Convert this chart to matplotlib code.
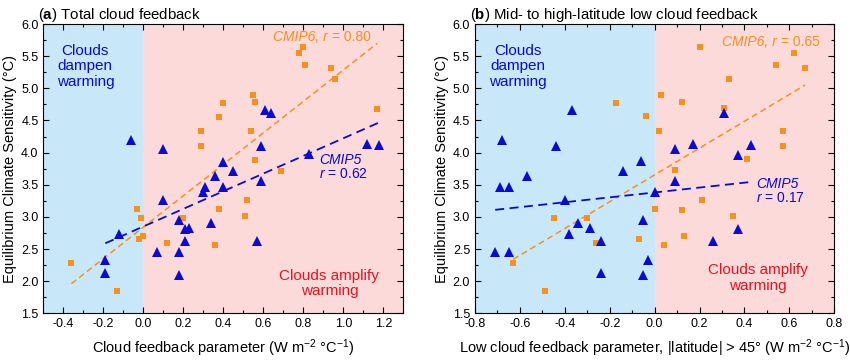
import matplotlib
matplotlib.use("Agg")
import matplotlib.pyplot as plt
from matplotlib.ticker import MultipleLocator, FormatStrFormatter

plt.rcParams["font.family"] = ["Liberation Sans", "DejaVu Sans"]
plt.rcParams["mathtext.fontset"] = "custom"
plt.rcParams["mathtext.rm"] = "Liberation Sans"
plt.rcParams["mathtext.it"] = "Liberation Sans:italic"
plt.rcParams["mathtext.bf"] = "Liberation Sans:bold"
plt.rcParams["axes.unicode_minus"] = False

# panel (a): total cloud feedback vs ECS
a_cmip6_x = [0.80, 0.78, 0.81, 0.94, 0.96, 0.55, 0.56, 0.40, 0.38, 0.29, 0.54, 0.29, 0.56, 0.69,
             1.17, -0.03, -0.01, 0.00, -0.02, 0.20, 0.12, 0.38, 0.36, 0.52, 0.51, -0.36, -0.13]
a_cmip6_y = [5.65, 5.55, 5.36, 5.31, 5.15, 4.90, 4.79, 4.77, 4.56, 4.33, 4.33, 4.10, 3.89, 3.72,
             4.68, 3.12, 2.99, 2.71, 2.66, 2.99, 2.60, 3.13, 2.56, 3.26, 3.02, 2.29, 1.84]
a_cmip5_x = [-0.06, 0.10, 0.61, 0.64, 0.59, 0.40, 0.45, 0.36, 0.83, 1.12, 1.18, 0.59, 0.40, 0.31,
             0.30, 0.10, 0.18, 0.21, 0.23, 0.34, 0.21, 0.07, 0.18, 0.18, 0.57, -0.12, -0.19, -0.19]
a_cmip5_y = [4.19, 4.05, 4.66, 4.61, 4.10, 3.86, 3.71, 3.64, 3.98, 4.14, 4.12, 3.56, 3.46, 3.47,
             3.38, 3.26, 2.95, 2.81, 2.83, 2.90, 2.63, 2.46, 2.45, 2.10, 2.63, 2.73, 2.33, 2.13]
a_fit6_x, a_fit6_y = [-0.36, 1.17], [1.96, 5.70]
a_fit5_x, a_fit5_y = [-0.19, 1.18], [2.59, 4.47]

# panel (b): mid- to high-latitude low cloud feedback vs ECS
b_cmip6_x = [0.20, 0.62, 0.54, 0.67, 0.33, 0.03, 0.12, -0.17, -0.04, 0.02, 0.31, 0.57, 0.57, 0.41,
             0.09, 0.00, 0.12, 0.21, 0.35, 0.13, 0.04, -0.07, -0.45, -0.30, -0.26, -0.63, -0.49]
b_cmip6_y = [5.64, 5.55, 5.36, 5.31, 5.15, 4.90, 4.79, 4.77, 4.57, 4.33, 4.69, 4.33, 4.11, 3.90,
             3.73, 3.13, 3.11, 3.26, 3.02, 2.71, 2.56, 2.66, 2.98, 2.98, 2.60, 2.29, 1.84]
b_cmip5_x = [-0.68, -0.57, -0.44, -0.37, -0.14, -0.06, 0.09, 0.17, 0.31, 0.37, 0.43, 0.09, -0.69, -0.65,
             0.00, -0.40, -0.34, -0.29, -0.38, -0.05, -0.24, -0.03, -0.24, -0.05, -0.71, -0.65, 0.26, 0.37]
b_cmip5_y = [4.20, 3.64, 4.11, 4.66, 3.72, 3.87, 4.06, 4.14, 4.61, 3.97, 4.12, 3.56, 3.46, 3.46,
             3.38, 3.26, 2.91, 2.83, 2.74, 2.95, 2.63, 2.33, 2.13, 2.10, 2.46, 2.45, 2.62, 2.81]
b_fit6_x, b_fit6_y = [-0.63, 0.67], [2.34, 5.05]
b_fit5_x, b_fit5_y = [-0.71, 0.42], [3.11, 3.54]

ORANGE = "#f7901e"
BLUE = "#0a0ad6"
DAMPEN_BG = "#c8e8fa"
AMPLIFY_BG = "#fcdada"
RED = "#e3151f"


def draw_panel(ax, xlim, c6x, c6y, c5x, c5y, f6x, f6y, f5x, f5y):
    ax.axvspan(xlim[0], 0, color=DAMPEN_BG, lw=0, zorder=0)
    ax.axvspan(0, xlim[1], color=AMPLIFY_BG, lw=0, zorder=0)
    ax.plot(f6x, f6y, color=ORANGE, lw=1.1, dashes=(4, 2.5), zorder=2)
    ax.plot(f5x, f5y, color=BLUE, lw=1.3, dashes=(5, 3), zorder=2)
    ax.plot(c6x, c6y, "s", color=ORANGE, ms=5, mew=0, zorder=3)
    ax.plot(c5x, c5y, "^", color=BLUE, ms=6.5, mew=0, zorder=3)
    ax.set_xlim(*xlim)
    ax.set_ylim(1.5, 6.0)
    ax.xaxis.set_major_locator(MultipleLocator(0.2))
    ax.xaxis.set_minor_locator(MultipleLocator(0.1))
    ax.yaxis.set_major_locator(MultipleLocator(0.5))
    ax.yaxis.set_minor_locator(MultipleLocator(0.25))
    ax.xaxis.set_major_formatter(FormatStrFormatter("%.1f"))
    ax.yaxis.set_major_formatter(FormatStrFormatter("%.1f"))
    ax.tick_params(which="both", direction="in", top=True, right=True, labelsize=9, width=0.8)
    ax.tick_params(which="major", length=4.5)
    ax.tick_params(which="minor", length=2.5)
    ax.set_ylabel("Equilibrium Climate Sensitivity (°C)", fontsize=10.5, labelpad=3)
    for side in ax.spines.values():
        side.set_linewidth(0.8)


def fit_label(ax, x, y, name, r_text, color):
    # italic "CMIPx, r" followed by upright "= value", right-aligned at x
    value = ax.text(x, y, "= " + r_text, color=color, fontsize=10, ha="right", va="center")
    ax.annotate(name + ", r", xy=(0, 0), xycoords=value, xytext=(-3, 0),
                textcoords="offset points", color=color, fontsize=10, style="italic",
                ha="right", va="bottom")


def fit_label_two_lines(ax, x, y, name, r_text, color):
    ax.text(x, y, name, color=color, fontsize=10, style="italic", ha="left", va="bottom")
    ax.text(x, y, "$\\mathit{r}$ = " + r_text, color=color, fontsize=10, ha="left", va="top")


fig = plt.figure(figsize=(8.5, 3.61), dpi=100)
ax_a = fig.add_axes([0.051, 0.132, 0.4235, 0.8015])
ax_b = fig.add_axes([0.5588, 0.132, 0.4227, 0.8015])

draw_panel(ax_a, (-0.5, 1.3), a_cmip6_x, a_cmip6_y, a_cmip5_x, a_cmip5_y,
           a_fit6_x, a_fit6_y, a_fit5_x, a_fit5_y)
draw_panel(ax_b, (-0.8, 0.8), b_cmip6_x, b_cmip6_y, b_cmip5_x, b_cmip5_y,
           b_fit6_x, b_fit6_y, b_fit5_x, b_fit5_y)

ax_a.set_xlabel("Cloud feedback parameter (W m$^{-2}$ °C$^{-1}$)", fontsize=10.5, labelpad=5)
ax_b.set_xlabel("Low cloud feedback parameter, |latitude| > 45° (W m$^{-2}$ °C$^{-1}$)",
                fontsize=10.5, labelpad=5)
ax_a.set_title(r"($\mathbf{a}$) Total cloud feedback", loc="left", x=-0.015, fontsize=10.8, pad=3)
ax_b.set_title(r"($\mathbf{b}$) Mid- to high-latitude low cloud feedback", loc="left", x=-0.015,
               fontsize=10.8, pad=3)

# annotations
ax_a.text(-0.29, 5.34, "Clouds\ndampen\nwarming", color=BLUE, fontsize=11, ha="center",
          va="center", linespacing=1.1)
ax_a.text(0.93, 1.97, "Clouds amplify\nwarming", color=RED, fontsize=11, ha="center",
          va="center", linespacing=1.1)
fit_label(ax_a, 1.137, 5.80, "CMIP6", "0.80", ORANGE)
fit_label_two_lines(ax_a, 0.879, 3.77, "CMIP5", "0.62", BLUE)

ax_b.text(-0.61, 5.34, "Clouds\ndampen\nwarming", color=BLUE, fontsize=11, ha="center",
          va="center", linespacing=1.1)
ax_b.text(0.46, 2.05, "Clouds amplify\nwarming", color=RED, fontsize=11, ha="center",
          va="center", linespacing=1.1)
fit_label(ax_b, 0.736, 5.72, "CMIP6", "0.65", ORANGE)
fit_label_two_lines(ax_b, 0.451, 3.41, "CMIP5", "0.17", BLUE)

fig.savefig("out.png", dpi=100)
